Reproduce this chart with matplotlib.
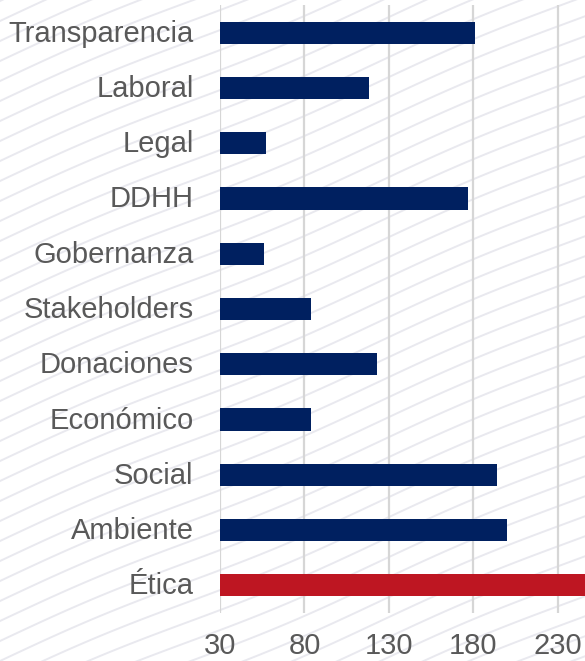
import matplotlib
matplotlib.use("Agg")
import matplotlib.pyplot as plt
from matplotlib.lines import Line2D
import matplotlib.transforms as mtransforms
import numpy as np

categories = ["Transparencia", "Laboral", "Legal", "DDHH", "Gobernanza",
              "Stakeholders", "Donaciones", "Económico", "Social", "Ambiente", "Ética"]
values = [181, 118, 57, 177, 56, 84, 123, 84, 194, 200, 250]
bar_colors = ["#002060"] * 10 + ["#BE1622"]
xticks = [30, 80, 130, 180, 230]

plt.rcParams['font.family'] = ['Liberation Sans', 'DejaVu Sans']

W, H = 585, 661
fig = plt.figure(figsize=(W / 100, H / 100), dpi=100)
fig.patch.set_facecolor("white")

# background diagonal texture lines
for k in range(-40, 60):
    y0 = k * 20
    xs = np.linspace(0, W, 60)
    ys = y0 + 0.42 * xs + 3 * np.sin(xs / 60.0)
    fig.add_artist(Line2D(xs / W, ys / H, transform=fig.transFigure,
                          color="#e9e9ef", lw=1.4, zorder=0))

ax = fig.add_axes([220 / W, (H - 613) / H, (W - 220) / W, (613 - 5) / H])
ax.set_facecolor("none")
y = np.arange(len(categories))
ax.barh(y, [v - 30 for v in values], left=30, height=0.4, color=bar_colors, zorder=3)
ax.set_ylim(len(categories) - 0.5, -0.5)
ax.set_xlim(30, 246)
ax.set_xticks(xticks)
ax.set_xticklabels([str(t) for t in xticks])
ax.set_yticks(y)
ax.set_yticklabels(categories)
ax.tick_params(axis="both", length=0, labelsize=21, labelcolor="#595959")
ax.tick_params(axis="x", pad=14)
ax.tick_params(axis="y", pad=19)
shift = mtransforms.ScaledTranslation(0, 2 / 100, fig.dpi_scale_trans)
for lbl in ax.get_yticklabels():
    lbl.set_transform(lbl.get_transform() + shift)
ax.xaxis.grid(True, color="#d6d6d6", lw=1.6, zorder=1)
ax.set_axisbelow(True)
for s in ax.spines.values():
    s.set_visible(False)

fig.savefig("out.png", dpi=100)
